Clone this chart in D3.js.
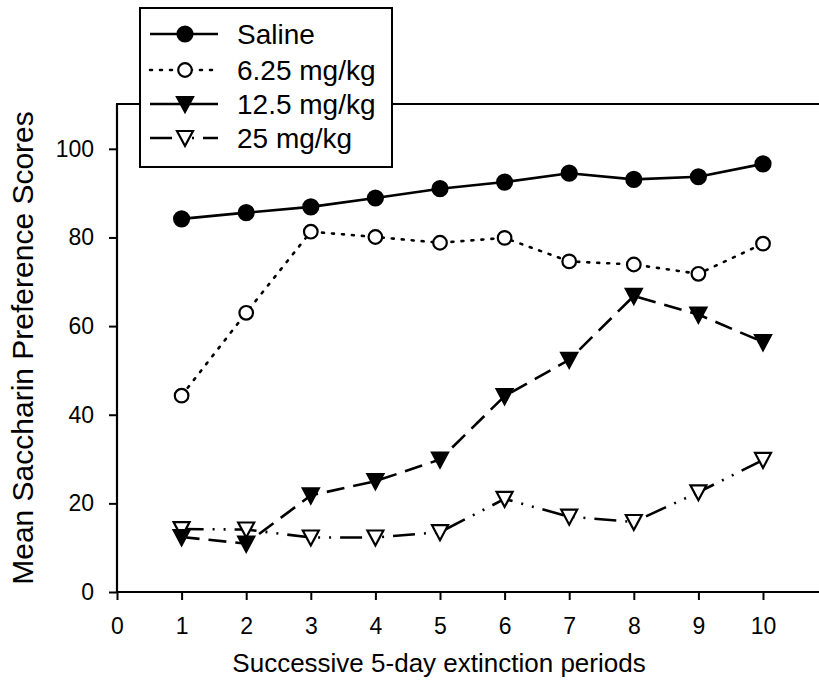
<!DOCTYPE html>
<html><head><meta charset="utf-8">
<script src="https://cdn.jsdelivr.net/npm/d3@7"></script>
<style>body{margin:0;background:#fff}svg{display:block;font-family:Arial,"Liberation Sans",sans-serif}</style>
</head><body>
<svg id="c" width="819" height="689"></svg>
<script>
const periods = [1,2,3,4,5,6,7,8,9,10];
const saline = [84.2,85.6,86.9,88.9,91.0,92.5,94.5,93.1,93.7,96.6];
const dose625 = [44.3,63.0,81.3,80.1,78.8,79.9,74.6,73.9,71.8,78.6];
const dose125 = [12.4,10.9,21.8,25.0,29.9,44.2,52.4,66.8,62.6,56.4];
const dose25 = [14.2,14.1,12.3,12.3,13.5,21.0,17.0,15.8,22.5,29.8];
const xTicks = [0,1,2,3,4,5,6,7,8,9,10];
const yTicks = [0,20,40,60,80,100];
const seriesNames = ["Saline","6.25 mg/kg","12.5 mg/kg","25 mg/kg"];

const svg = d3.select("#c");
const x = d3.scaleLinear().domain([0,11]).range([117, 117+11*64.6]);
const y = d3.scaleLinear().domain([0,110]).range([592, 104.5]);

const series = [
  {name:seriesNames[0], vals:saline, dash:null, marker:"circle", fill:"#000"},
  {name:seriesNames[1], vals:dose625, dash:"2,8", marker:"circle", fill:"#fff"},
  {name:seriesNames[2], vals:dose125, dash:"18,9", marker:"tri", fill:"#000"},
  {name:seriesNames[3], vals:dose25, dash:"22,9,2,9,2,9", marker:"tri", fill:"#fff"}
];

// axes
const xAxis = svg.append("g").attr("transform","translate(0,592)")
  .call(d3.axisBottom(x).tickValues(xTicks).tickSize(8).tickPadding(18).tickFormat(d3.format("d")));
const yAxis = svg.append("g").attr("transform","translate(117,0)")
  .call(d3.axisLeft(y).tickValues(yTicks).tickSize(8).tickPadding(15));
[xAxis,yAxis].forEach(a=>{
  a.select(".domain").remove();
  a.selectAll("line").attr("stroke","#000").attr("stroke-width",2);
  a.selectAll("text").attr("font-size",23).attr("fill","#000");
});
// frame lines
svg.append("line").attr("x1",117).attr("x2",819).attr("y1",592).attr("y2",592).attr("stroke","#000").attr("stroke-width",2.2);
svg.append("line").attr("x1",117).attr("x2",117).attr("y1",104).attr("y2",593).attr("stroke","#000").attr("stroke-width",2.2);
svg.append("line").attr("x1",116).attr("x2",819).attr("y1",104).attr("y2",104).attr("stroke","#000").attr("stroke-width",2);

const line = d3.line().x((d,i)=>x(periods[i])).y(d=>y(d));
const triPath = "M-8,-7L8,-7L0,8Z";
function drawMarker(g, s, cx, cy){
  if(s.marker==="circle"){
    g.append("circle").attr("cx",cx).attr("cy",cy).attr("r", s.fill==="#000"?7.5:6.8)
      .attr("fill",s.fill).attr("stroke","#000").attr("stroke-width",2.2);
  } else {
    g.append("path").attr("d",triPath).attr("transform",`translate(${cx},${cy})`)
      .attr("fill",s.fill).attr("stroke","#000").attr("stroke-width",2.2).attr("stroke-linejoin","miter");
  }
}
series.slice().reverse().forEach(s=>{
  const g = svg.append("g");
  g.append("path").datum(s.vals).attr("d",line).attr("fill","none").attr("stroke","#000")
    .attr("stroke-width",2.6).attr("stroke-dasharray",s.dash).attr("stroke-linecap", s.dash==="2,8"?"round":"butt");
  s.vals.forEach((v,i)=>drawMarker(g,s,x(periods[i]),y(v)));
});

// legend
const lg = svg.append("g");
lg.append("rect").attr("x",140).attr("y",8).attr("width",252).attr("height",159).attr("fill","#fff").attr("stroke","#000").attr("stroke-width",2);
const rowsY = [34,70,104,138];
series.forEach((s,i)=>{
  const yy = rowsY[i];
  lg.append("line").attr("x1",150).attr("x2",218).attr("y1",yy).attr("y2",yy).attr("stroke","#000").attr("stroke-width",2.6)
    .attr("stroke-dasharray", i===1?"2,8": (i===3?"22,9,2,9,2,9":null)).attr("stroke-linecap", i===1?"round":"butt");
  drawMarker(lg,s,185,yy);
  lg.append("text").attr("x",237).attr("y",yy+10).attr("font-size",28).text(s.name);
});

// titles
svg.append("text").attr("x",439).attr("y",672).attr("text-anchor","middle").attr("font-size",26).text("Successive 5-day extinction periods");
svg.append("text").attr("transform","translate(33,348) rotate(-90)").attr("text-anchor","middle").attr("font-size",30).text("Mean Saccharin Preference Scores");
</script>
</body></html>
